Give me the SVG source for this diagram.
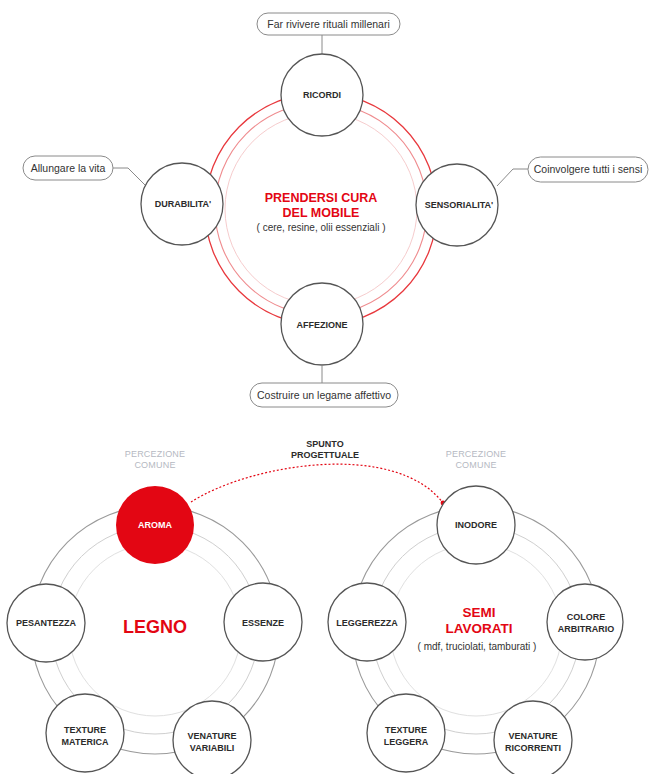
<svg xmlns="http://www.w3.org/2000/svg" width="650" height="774" viewBox="0 0 650 774">
<style>
text{font-family:"Liberation Sans",Arial,sans-serif}
.node{fill:#fff;stroke:#555;stroke-width:1.3}
.lbl{font-size:9px;font-weight:bold;fill:#2b2b2b;text-anchor:middle}
.box{fill:#fff;stroke:#8a8a8a;stroke-width:1}
.btx{font-size:10.5px;fill:#333;text-anchor:middle}
.con{fill:none;stroke:#8a8a8a;stroke-width:1}
.red{fill:#e30613;font-weight:bold;text-anchor:middle}
.sub{font-size:10px;fill:#333;text-anchor:middle}
.perc{font-size:9px;fill:#b5b9c2;text-anchor:middle;letter-spacing:0.2px}
.r1{fill:none;stroke:#e8383d;stroke-width:1.3}
.r2{fill:none;stroke:#ef8c8f;stroke-width:1.1}
.r3{fill:none;stroke:#f6cccd;stroke-width:1}
.g1{fill:none;stroke:#9a9a9a;stroke-width:1.1}
.g2{fill:none;stroke:#cfcfcf;stroke-width:1}
.g3{fill:none;stroke:#e0e0e0;stroke-width:1}
</style>
<defs>
<marker id="dot" markerWidth="6" markerHeight="6" refX="3" refY="3" markerUnits="userSpaceOnUse">
<circle cx="3" cy="3" r="2.4" fill="#e30613"/>
</marker>
</defs>
<rect width="650" height="774" fill="#fff"/>

<g id="rings">
<circle class="r1" cx="321" cy="209" r="116"/>
<circle class="r2" cx="321" cy="209" r="106"/>
<circle class="r3" cx="321" cy="209" r="96"/>
<circle class="g1" cx="155" cy="630" r="124"/>
<circle class="g2" cx="155" cy="630" r="104"/>
<circle class="g3" cx="155" cy="630" r="86"/>
<circle class="g1" cx="476" cy="630" r="124"/>
<circle class="g2" cx="476" cy="630" r="104"/>
<circle class="g3" cx="476" cy="630" r="86"/>
</g>

<g id="connectors">
<line class="con" x1="322" y1="35" x2="322" y2="54"/>
<polyline class="con" points="113,168 128,168 146,186"/>
<polyline class="con" points="528,169 513,169 497,186"/>
<line class="con" x1="322" y1="366" x2="322" y2="383"/>
<path d="M191,502 C250,464 395,440 443,503" fill="none" stroke="#e30613" stroke-width="1.2" stroke-dasharray="2 2" marker-end="url(#dot)"/>
</g>

<g id="center-top">
<text class="red" x="321" y="202" font-size="12.5">PRENDERSI CURA</text>
<text class="red" x="321" y="217" font-size="12.5">DEL MOBILE</text>
<text class="sub" x="321" y="231">( cere, resine, olii essenziali )</text>
</g>

<g id="ricordi">
<circle class="node" cx="322" cy="95" r="41"/>
<text class="lbl" x="322" y="98">RICORDI</text>
</g>
<g id="durabilita">
<circle class="node" cx="182" cy="204" r="41"/>
<text class="lbl" x="183" y="207">DURABILITA'</text>
</g>
<g id="sensorialita">
<circle class="node" cx="457" cy="205" r="41"/>
<text class="lbl" x="459" y="208">SENSORIALITA'</text>
</g>
<g id="affezione">
<circle class="node" cx="322" cy="324" r="41"/>
<text class="lbl" x="322" y="328">AFFEZIONE</text>
</g>

<g id="box-ricordi">
<rect class="box" x="257" y="13" width="143" height="22" rx="11"/>
<text class="btx" x="328.5" y="28">Far rivivere rituali millenari</text>
</g>
<g id="box-durabilita">
<rect class="box" x="23" y="156" width="90" height="24" rx="12"/>
<text class="btx" x="68" y="172">Allungare la vita</text>
</g>
<g id="box-sensorialita">
<rect class="box" x="528" y="157" width="120" height="25" rx="12.5"/>
<text class="btx" x="588" y="173">Coinvolgere tutti i sensi</text>
</g>
<g id="box-affezione">
<rect class="box" x="250" y="383" width="148" height="24" rx="12"/>
<text class="btx" x="324" y="399">Costruire un legame affettivo</text>
</g>

<g id="spunto">
<text class="lbl" x="325" y="447" font-size="7">SPUNTO</text>
<text class="lbl" x="325" y="458" font-size="7">PROGETTUALE</text>
</g>
<g id="percezione-legno">
<text class="perc" x="155" y="457">PERCEZIONE</text>
<text class="perc" x="155" y="468">COMUNE</text>
</g>
<g id="percezione-semi">
<text class="perc" x="476" y="457">PERCEZIONE</text>
<text class="perc" x="476" y="468">COMUNE</text>
</g>

<g id="legno">
<text class="red" x="155" y="633" font-size="18">LEGNO</text>
</g>
<g id="aroma">
<circle cx="155" cy="525" r="39" fill="#e30613"/>
<text class="lbl" x="155" y="528" style="fill:#fff">AROMA</text>
</g>
<g id="pesantezza">
<circle class="node" cx="46" cy="623" r="39"/>
<text class="lbl" x="46" y="626">PESANTEZZA</text>
</g>
<g id="essenze">
<circle class="node" cx="263" cy="622" r="39"/>
<text class="lbl" x="263" y="626">ESSENZE</text>
</g>
<g id="texture-materica">
<circle class="node" cx="85" cy="733" r="39"/>
<text class="lbl" x="85" y="733">TEXTURE</text>
<text class="lbl" x="85" y="745">MATERICA</text>
</g>
<g id="venature-variabili">
<circle class="node" cx="212" cy="740" r="39"/>
<text class="lbl" x="212" y="739">VENATURE</text>
<text class="lbl" x="212" y="751">VARIABILI</text>
</g>

<g id="semi-lavorati">
<text class="red" x="479" y="617" font-size="13.5">SEMI</text>
<text class="red" x="479" y="633" font-size="13.5">LAVORATI</text>
<text class="sub" x="477" y="650">( mdf, truciolati, tamburati )</text>
</g>
<g id="inodore">
<circle class="node" cx="476" cy="525" r="39"/>
<text class="lbl" x="476" y="528">INODORE</text>
</g>
<g id="leggerezza">
<circle class="node" cx="367" cy="622" r="39"/>
<text class="lbl" x="367" y="626">LEGGEREZZA</text>
</g>
<g id="colore-arbitrario">
<circle class="node" cx="585" cy="622" r="38"/>
<text class="lbl" x="586" y="620">COLORE</text>
<text class="lbl" x="586" y="632">ARBITRARIO</text>
</g>
<g id="texture-leggera">
<circle class="node" cx="406" cy="733" r="39"/>
<text class="lbl" x="406" y="733">TEXTURE</text>
<text class="lbl" x="406" y="745">LEGGERA</text>
</g>
<g id="venature-ricorrenti">
<circle class="node" cx="533" cy="740" r="39"/>
<text class="lbl" x="533" y="739">VENATURE</text>
<text class="lbl" x="533" y="751">RICORRENTI</text>
</g>
</svg>
